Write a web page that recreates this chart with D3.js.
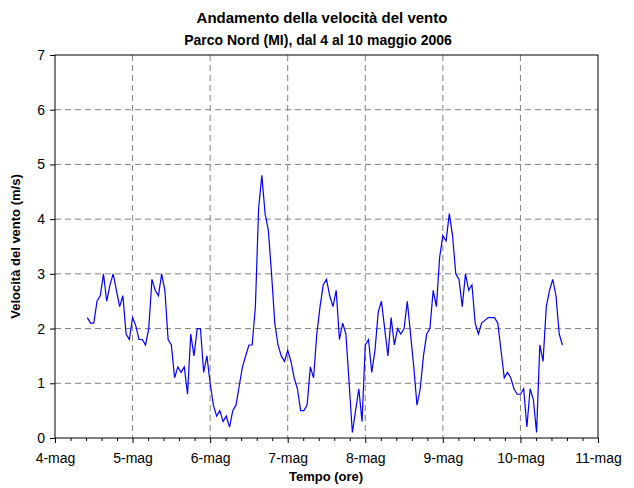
<!DOCTYPE html>
<html>
<head>
<meta charset="utf-8">
<script src="https://cdn.jsdelivr.net/npm/d3@7"></script>
<style>
	body { margin: 0; background: #fff; }
	text { font-family: "Liberation Sans", Arial, sans-serif; }
</style>
</head>
<body>
<script>
// wind speed (m/s), one reading per hour, first reading 4 May 2006 10:00
var firstReading = new Date(2006, 4, 4, 10);
var speed = [
	// 4-mag 10..23
	2.2, 2.1, 2.1, 2.5, 2.6, 3.0, 2.5, 2.8, 3.0, 2.7, 2.4, 2.6, 1.9, 1.8,
	// 5-mag
	2.2, 2.05, 1.8, 1.8, 1.7, 2.0, 2.9, 2.7, 2.6, 3.0, 2.7, 1.8,
	1.7, 1.1, 1.3, 1.2, 1.3, 0.8, 1.9, 1.5, 2.0, 2.0, 1.2, 1.5,
	// 6-mag
	1.0, 0.6, 0.4, 0.5, 0.3, 0.4, 0.2, 0.5, 0.6, 0.95, 1.3, 1.5,
	1.7, 1.7, 2.4, 4.2, 4.8, 4.1, 3.8, 3.0, 2.1, 1.7, 1.5, 1.4,
	// 7-mag
	1.6, 1.4, 1.1, 0.9, 0.5, 0.5, 0.6, 1.3, 1.1, 1.9, 2.4, 2.8,
	2.9, 2.6, 2.4, 2.7, 1.8, 2.1, 1.9, 1.0, 0.1, 0.5, 0.9, 0.3,
	// 8-mag
	1.7, 1.8, 1.2, 1.6, 2.3, 2.5, 2.0, 1.5, 2.2, 1.7, 2.0, 1.9,
	2.0, 2.5, 1.9, 1.3, 0.6, 0.9, 1.5, 1.9, 2.0, 2.7, 2.4, 3.3,
	// 9-mag
	3.7, 3.6, 4.1, 3.7, 3.0, 2.9, 2.4, 3.0, 2.7, 2.8, 2.1, 1.9,
	2.1, 2.15, 2.2, 2.2, 2.2, 2.1, 1.6, 1.1, 1.2, 1.1, 0.9, 0.8,
	// 10-mag 0..13
	0.8, 0.9, 0.2, 0.9, 0.7, 0.1, 1.7, 1.4, 2.4, 2.7, 2.9, 2.6, 1.9, 1.7
];
var yTicks = [0, 1, 2, 3, 4, 5, 6, 7];
var dayTicks = [4, 5, 6, 7, 8, 9, 10, 11];

var W = 634, H = 488;
var plotL = 55, plotR = 598, plotT = 55, plotB = 438;

var readings = speed.map(function(v, i){
	return { t: d3.timeHour.offset(firstReading, i), v: v };
});

var x = d3.scaleTime()
	.domain([new Date(2006, 4, 4), new Date(2006, 4, 11)])
	.range([plotL, plotR]);
var y = d3.scaleLinear().domain([0, 7]).range([plotB, plotT]);

var dayDates = dayTicks.map(function(d){ return new Date(2006, 4, d); });
// minor ticks every 0.2 day
var minorDates = [];
for (var i = 0; i <= 35; i++) {
	if (i % 5 != 0) minorDates.push(new Date(+dayDates[0] + i * 0.2 * 864e5));
}

var svg = d3.select("body").append("svg")
	.attr("width", W)
	.attr("height", H);

// gridlines
svg.append("g").selectAll("line")
	.data(yTicks.slice(1, -1))
	.enter().append("line")
	.attr("x1", plotL).attr("x2", plotR)
	.attr("y1", function(d){ return y(d); })
	.attr("y2", function(d){ return y(d); })
	.attr("stroke", "#808080")
	.attr("stroke-dasharray", "6,4");
svg.append("g").selectAll("line")
	.data(dayDates.slice(1, -1))
	.enter().append("line")
	.attr("y1", plotT).attr("y2", plotB)
	.attr("x1", function(d){ return x(d); })
	.attr("x2", function(d){ return x(d); })
	.attr("stroke", "#808080")
	.attr("stroke-dasharray", "6,4");

// wind line
var line = d3.line()
	.x(function(d){ return x(d.t); })
	.y(function(d){ return y(d.v); });
svg.append("path")
	.datum(readings)
	.attr("d", line)
	.attr("fill", "none")
	.attr("stroke", "#0000ff")
	.attr("stroke-width", 1.2);

// frame
svg.append("rect")
	.attr("x", plotL).attr("y", plotT)
	.attr("width", plotR - plotL).attr("height", plotB - plotT)
	.attr("fill", "none").attr("stroke", "#000");

// y axis
var yAxis = svg.append("g")
	.attr("transform", "translate(" + plotL + ",0)")
	.call(d3.axisLeft(y).tickValues(yTicks).tickSize(5).tickPadding(5).tickFormat(d3.format("d")));
yAxis.select(".domain").remove();
yAxis.selectAll("text").attr("font-size", 14).attr("font-family", "Liberation Sans, Arial, sans-serif");

// x axis minor ticks
svg.append("g")
	.attr("transform", "translate(0," + plotB + ")")
	.call(d3.axisBottom(x).tickValues(minorDates).tickSize(3).tickFormat(""))
	.select(".domain").remove();

var fmt = function(d){ return d.getDate() + "-mag"; };
var xAxis = svg.append("g")
	.attr("transform", "translate(0," + plotB + ")")
	.call(d3.axisBottom(x).tickValues(dayDates).tickSize(5).tickPadding(10).tickFormat(fmt));
xAxis.select(".domain").remove();
xAxis.selectAll("text").attr("font-size", 14).attr("font-family", "Liberation Sans, Arial, sans-serif");

// titles
svg.append("text")
	.attr("x", 322).attr("y", 23)
	.attr("text-anchor", "middle")
	.attr("font-size", 15).attr("font-weight", "bold")
	.text("Andamento della velocità del vento");
svg.append("text")
	.attr("x", 318).attr("y", 45)
	.attr("text-anchor", "middle")
	.attr("font-size", 14).attr("font-weight", "bold")
	.text("Parco Nord (MI), dal 4 al 10 maggio 2006");
svg.append("text")
	.attr("x", 326).attr("y", 481)
	.attr("text-anchor", "middle")
	.attr("font-size", 13).attr("font-weight", "bold")
	.text("Tempo (ore)");
svg.append("text")
	.attr("transform", "translate(20," + ((plotT + plotB) / 2) + ") rotate(-90)")
	.attr("text-anchor", "middle")
	.attr("font-size", 13).attr("font-weight", "bold")
	.text("Velocità del vento (m/s)");
</script>
</body>
</html>
